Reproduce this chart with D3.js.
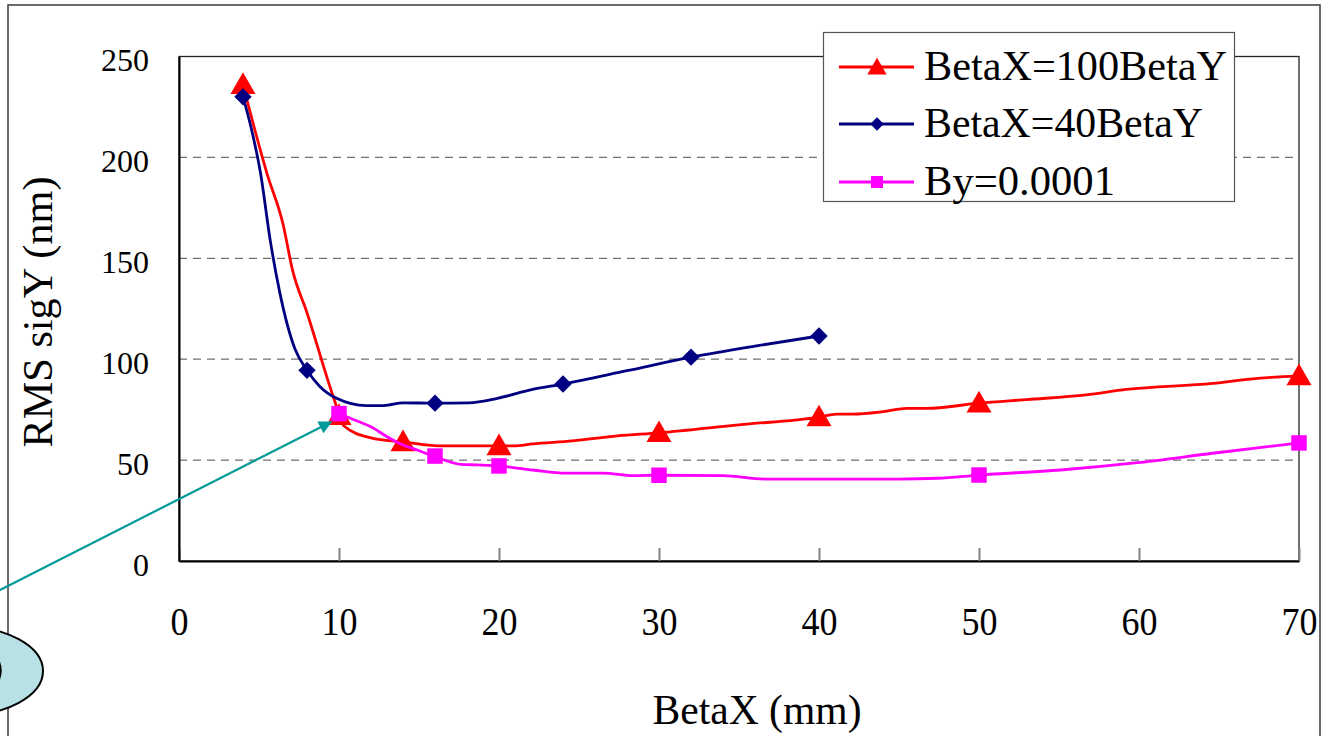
<!DOCTYPE html>
<html>
<head>
<meta charset="utf-8">
<script src="https://cdn.jsdelivr.net/npm/d3@7"></script>
<style>
  html, body { margin: 0; padding: 0; background: #fff; overflow: hidden; }
  svg { display: block; }
  text { font-family: "Liberation Serif", "DejaVu Serif", serif; fill: #000; }
</style>
</head>
<body>
<div id="chart"></div>
<script>
const width = 1323
const height = 736

// x / y tick values
const xTicks = [0, 10, 20, 30, 40, 50, 60, 70]
const yTicks = [0, 50, 100, 150, 200, 250]
const gridValues = [50, 100, 150, 200]

// series names
const seriesNames = ["BetaX=100BetaY", "BetaX=40BetaY", "By=0.0001"]
const seriesColors = ["#ff0000", "#000080", "#ff00ff"]
const seriesSymbols = ["triangle", "diamond", "square"]

// line vertices [BetaX, sigY]
const redLine = [[4,236],[5.5,192],[6.5,167],[7.1,144],[8,123],[9.7,80],[10.3,67],[12,61],[14,59],[16.5,57],[18.2,57],[20.9,57],[22.1,58],[24.6,59.5],[27.4,62],[30,63.5],[35,67.5],[40,71.3],[41.1,72.8],[42.1,72.8],[44,74],[45.5,75.6],[46.7,75.6],[50,78.2],[53,80],[56.7,82.3],[59.2,85],[64.6,88],[67.4,90.5],[70,91.7]]
const blueLine = [[4,230],[4.5,215],[5.1,192],[5.7,159],[6.3,133],[7.25,105],[8,94.5],[8.8,86.5],[9.85,80.6],[11.7,77],[12.8,77],[14,78.4],[16,78.2],[18.1,78.4],[19.9,80.6],[22.1,85],[24,87.7],[28,94.3],[32,101],[36,106.5],[40,111.5]]
const magentaLine = [[10,73],[11.1,69.5],[12,66.5],[13,61.6],[14,57.5],[14.6,55.8],[15.9,52],[17.6,47.9],[18.6,47.6],[20,47.1],[22.1,45.1],[24.2,43.5],[26.5,43.5],[28.4,42.3],[30,42.5],[34,42.3],[36.7,40.6],[40,40.6],[45,40.6],[47.4,41],[50,42.6],[55.1,45.1],[59.9,48.7],[64.6,53.4],[70,58.5]]

// marker points
const redMarkers = [[4,236],[10,72],[14,59],[20,57],[30,63.5],[40,71.3],[50,78.2],[70,91.7]]
const blueMarkers = [[4,230],[8,94.5],[16,78.2],[24,87.7],[32,101],[40,111.5]]
const magentaMarkers = [[10,73],[16,52],[20,47.1],[30,42.5],[50,42.6],[70,58.5]]

const lines = [redLine, blueLine, magentaLine]
const markers = [redMarkers, blueMarkers, magentaMarkers]

const margin = {left: 179, right: 24, top: 56.5, bottom: 175}

const svg = d3.select("#chart")
    .append("svg")
    .attr("width", width)
    .attr("height", height)

const x = d3.scaleLinear().domain([0, 70]).range([margin.left, width - margin.right])
const y = d3.scaleLinear().domain([0, 250]).range([height - margin.bottom, margin.top])

// outer frame of the chart object
svg.append("rect")
    .attr("x", 8).attr("y", 5)
    .attr("width", 1312).attr("height", 800)
    .attr("fill", "none")
    .attr("stroke", "#3a3a3a")
    .attr("stroke-width", 1.5)

// gridlines
svg.append("g")
    .selectAll("line")
    .data(gridValues)
    .enter()
    .append("line")
    .attr("x1", x(0)).attr("x2", x(70))
    .attr("y1", d => y(d)).attr("y2", d => y(d))
    .attr("stroke", "#707070")
    .attr("stroke-width", 1.2)
    .attr("stroke-dasharray", "8,6")

// plot border
svg.append("rect")
    .attr("x", x(0)).attr("y", y(250))
    .attr("width", x(70) - x(0)).attr("height", y(0) - y(250))
    .attr("fill", "none")
    .attr("stroke", "#222")
    .attr("stroke-width", 1.3)

// x axis
const xAxis = svg.append("g")
    .attr("transform", `translate(0,${y(0)})`)
    .call(d3.axisBottom(x).tickValues(xTicks).tickSizeInner(-13).tickSizeOuter(0).tickFormat(d3.format("d")))
xAxis.select(".domain").attr("stroke", "#000").attr("stroke-width", 2)
xAxis.selectAll(".tick line").attr("stroke", "#808080").attr("stroke-width", 2)
xAxis.selectAll(".tick text")
    .attr("y", 74).attr("dy", 0)
    .attr("font-size", 40)
    .attr("font-family", "Liberation Serif")
    .attr("textLength", d => String(d).length * 18)
    .attr("lengthAdjust", "spacingAndGlyphs")

// y axis
const yAxis = svg.append("g")
    .attr("transform", `translate(${x(0)},0)`)
    .call(d3.axisLeft(y).tickValues(yTicks).tickSize(0).tickPadding(30))
yAxis.select(".domain").attr("stroke", "#000").attr("stroke-width", 2)
yAxis.selectAll(".tick text")
    .attr("dy", 14)
    .attr("font-size", 32)
    .attr("font-family", "Liberation Serif")

// axis titles
svg.append("text")
    .attr("x", 757).attr("y", 724)
    .attr("text-anchor", "middle")
    .attr("font-size", 42)
    .attr("textLength", 209)
    .attr("lengthAdjust", "spacingAndGlyphs")
    .text("BetaX (mm)")

svg.append("text")
    .attr("transform", "translate(52,312) rotate(-90)")
    .attr("text-anchor", "middle")
    .attr("font-size", 42)
    .attr("textLength", 271)
    .attr("lengthAdjust", "spacingAndGlyphs")
    .text("RMS sigY (nm)")

// series
const lineGen = d3.line()
    .x(d => x(d[0]))
    .y(d => y(d[1]))
    .curve(d3.curveMonotoneX)

// diamond = square turned 45 degrees (Excel style, as wide as tall)
const symbolType = {triangle: d3.symbolTriangle, diamond: d3.symbolSquare, square: d3.symbolSquare}
const symbolSize = {triangle: 270, diamond: 150, square: 240}
const symbolShift = {triangle: 2, diamond: 0, square: 0}
const symbolRot = {triangle: 0, diamond: 45, square: 0}

lines.forEach((pts, i) => {
    const s = seriesSymbols[i]
    const g = svg.append("g")
    g.append("path")
        .attr("d", lineGen(pts))
        .attr("fill", "none")
        .attr("stroke", seriesColors[i])
        .attr("stroke-width", 2.8)
        .attr("stroke-linejoin", "round")
    g.selectAll("path.mark")
        .data(markers[i])
        .enter()
        .append("path")
        .attr("class", "mark")
        .attr("d", d3.symbol().type(symbolType[s]).size(symbolSize[s]))
        .attr("transform", d => `translate(${x(d[0])},${y(d[1]) + symbolShift[s]}) rotate(${symbolRot[s]})`)
        .attr("fill", seriesColors[i])
})

// legend
const legend = svg.append("g")
legend.append("rect")
    .attr("x", 823.5).attr("y", 32.5)
    .attr("width", 411).attr("height", 169)
    .attr("fill", "#fff")
    .attr("stroke", "#555")
    .attr("stroke-width", 1.2)

const legendRowY = [67, 124, 182]
const legendTextLen = [303, 279, 191]
seriesNames.forEach((name, i) => {
    const s = seriesSymbols[i]
    legend.append("line")
        .attr("x1", 839).attr("x2", 914)
        .attr("y1", legendRowY[i]).attr("y2", legendRowY[i])
        .attr("stroke", seriesColors[i])
        .attr("stroke-width", 2.8)
    legend.append("path")
        .attr("d", d3.symbol().type(symbolType[s]).size(symbolSize[s] * 0.6))
        .attr("transform", `translate(877,${legendRowY[i] + symbolShift[s]}) rotate(${symbolRot[s]})`)
        .attr("fill", seriesColors[i])
    legend.append("text")
        .attr("x", 924).attr("y", legendRowY[i] + 13)
        .attr("font-size", 42)
        .attr("textLength", legendTextLen[i])
        .attr("lengthAdjust", "spacingAndGlyphs")
        .text(name)
})

// annotation: callout ellipse and arrow
svg.append("defs").append("marker")
    .attr("id", "arrowhead")
    .attr("viewBox", "0 0 10 10")
    .attr("refX", 9).attr("refY", 5)
    .attr("markerWidth", 7).attr("markerHeight", 6)
    .attr("markerUnits", "strokeWidth")
    .attr("orient", "auto")
    .append("path")
    .attr("d", "M0,0 L10,5 L0,10 Z")
    .attr("fill", "#009b98")

svg.append("line")
    .attr("x1", -10).attr("y1", 595)
    .attr("x2", 331).attr("y2", 422)
    .attr("stroke", "#009b98")
    .attr("stroke-width", 2.2)
    .attr("marker-end", "url(#arrowhead)")

svg.append("ellipse")
    .attr("cx", -40).attr("cy", 671)
    .attr("rx", 83).attr("ry", 45)
    .attr("fill", "#b8e1e5")
    .attr("stroke", "#000")
    .attr("stroke-width", 2)

// fragment of the callout's label, cut by the page edge
svg.append("path")
    .attr("d", "M-4,658 Q4,670 -4,684")
    .attr("fill", "none")
    .attr("stroke", "#000")
    .attr("stroke-width", 3.5)
</script>
</body>
</html>
